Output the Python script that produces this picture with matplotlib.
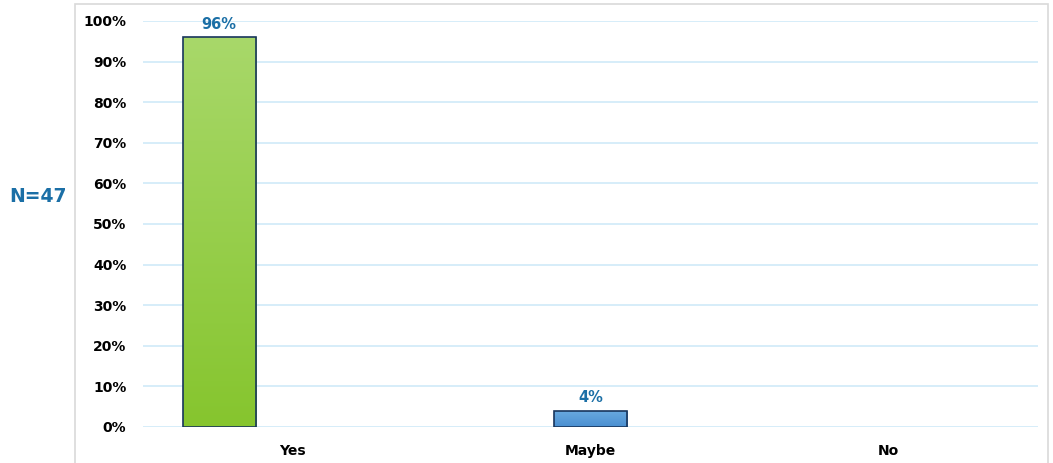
import matplotlib.pyplot as plt
import matplotlib.patches as mpatches
import numpy as np
from matplotlib.colors import LinearSegmentedColormap

plt.rcParams['font.family'] = ['DejaVu Sans']

categories = ["Yes", "Maybe", "No"]
values = [0.96, 0.04, 0.0]
value_labels = ["96%", "4%", ""]
bar_colors = [("#86c52e", "#a8d86a"), ("#4a8fd0", "#6aaae0"), ("#86c52e", "#a8d86a")]
yticks = np.arange(0, 1.01, 0.1)
n_label = "N=47"

label_blue = "#1b6fa6"
grid_blue = "#cfeaf8"
edge = "#18355c"

fig = plt.figure(figsize=(10.53, 4.63), dpi=100)
# outer frame
fig.patches.append(mpatches.Rectangle((75 / 1053, -0.01), 973 / 1053, 1 - 4 / 463 + 0.01,
                                      transform=fig.transFigure, fill=False,
                                      edgecolor="#d9d9d9", linewidth=1.2))
ax = fig.add_axes([143 / 1053, 1 - 427 / 463, 895 / 1053, 406 / 463])

# grouped layout: each series sits in its own slot of the group
w = 0.245
for i, (val, lab) in enumerate(zip(values, value_labels)):
    x = i + (i - 1) * w
    if val > 0:
        c0, c1 = bar_colors[i]
        cmap = LinearSegmentedColormap.from_list("g", [c0, c1])
        grad = np.linspace(0, 1, 256).reshape(-1, 1)
        bar = ax.bar(x, val, width=w, color="none", edgecolor=edge, linewidth=1.2, zorder=3)[0]
        im = ax.imshow(grad, cmap=cmap, origin="lower", aspect="auto",
                       extent=[x - w / 2, x + w / 2, 0, val], zorder=2)
        im.set_clip_path(bar)
        ax.text(x, val + 0.013, lab, ha="center", va="bottom", color=label_blue,
                fontsize=10.5, fontweight="bold")

ax.set_xlim(-0.5, 2.5)
ax.set_ylim(0, 1)
ax.set_yticks(yticks)
ax.set_yticklabels([f"{int(round(t * 100))}%" for t in yticks], fontsize=10, fontweight="bold")
ax.set_xticks(range(len(categories)))
ax.set_xticklabels(categories, fontsize=10, fontweight="bold")
ax.tick_params(length=0, pad=12)
ax.tick_params(axis="x", pad=12)
ax.grid(axis="y", color=grid_blue, linewidth=1.2, zorder=0)
ax.set_axisbelow(True)
for s in ax.spines.values():
    s.set_visible(False)

fig.text(38 / 1053, 1 - 197 / 463, n_label, ha="center", va="center",
         color=label_blue, fontsize=13.5, fontweight="bold")

fig.savefig("out.png", dpi=100)
